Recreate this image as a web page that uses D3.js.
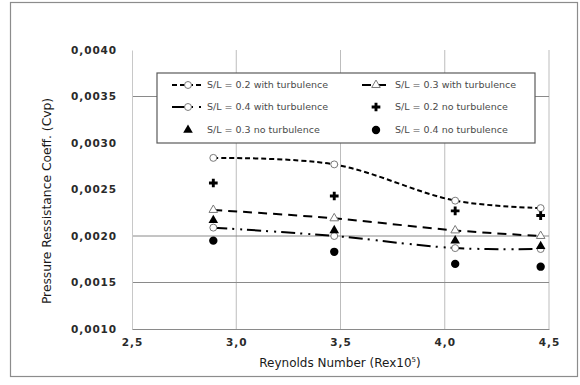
<!DOCTYPE html>
<html>
<head>
<meta charset="utf-8">
<script src="https://cdn.jsdelivr.net/npm/d3@7"></script>
<style>
  body { margin: 0; background: #fff; }
  svg { display: block; }
  text { font-family: "DejaVu Sans", Verdana, sans-serif; }
</style>
</head>
<body>
<svg id="chart"></svg>
<script>
var width = 580,
    height = 385

// Reynolds number (x10^5)
var reynolds = [2.89, 3.47, 4.05, 4.46]

var sl02Turb = [0.00284, 0.00277, 0.00238, 0.00230]
var sl03Turb = [0.00228, 0.00219, 0.00206, 0.00200]
var sl04Turb = [0.00209, 0.00200, 0.00187, 0.00186]
var sl02NoTurb = [0.00257, 0.00243, 0.00227, 0.00222]
var sl03NoTurb = [0.00217, 0.00206, 0.00195, 0.00189]
var sl04NoTurb = [0.00195, 0.00183, 0.00170, 0.00167]

var yTicks = [0.0010, 0.0015, 0.0020, 0.0025, 0.0030, 0.0035, 0.0040]
var yGrid = [0.0015, 0.0020, 0.0035]
var xTicks = [2.5, 3.0, 3.5, 4.0, 4.5]
var xGrid = [3.0, 3.5, 4.0, 4.5]

var seriesNames = [
    "S/L = 0.2 with turbulence", "S/L = 0.3 with turbulence",
    "S/L = 0.4 with turbulence", "S/L = 0.2 no turbulence",
    "S/L = 0.3 no turbulence", "S/L = 0.4 no turbulence"
]

var series = [
    { name: seriesNames[0], values: sl02Turb, line: "5,3", marker: "circle", open: true },
    { name: seriesNames[1], values: sl03Turb, line: "9,6", marker: "triangle", open: true },
    { name: seriesNames[2], values: sl04Turb, line: "14,5,2,6,2,5", marker: "circle", open: true },
    { name: seriesNames[3], values: sl02NoTurb, line: null, marker: "cross", open: false },
    { name: seriesNames[4], values: sl03NoTurb, line: null, marker: "triangle", open: false },
    { name: seriesNames[5], values: sl04NoTurb, line: null, marker: "circle", open: false }
]

var svg = d3.select("#chart")
    .attr("width", width)
    .attr("height", height)

// outer frame
svg.append("rect")
    .attr("x", 10.5).attr("y", 2.5)
    .attr("width", 567).attr("height", 374)
    .attr("fill", "none")
    .attr("stroke", "#8c8c8c")
    .attr("stroke-width", 1.2)

var xScale = d3.scaleLinear().domain([2.5, 4.5]).range([132, 549])
var yScale = d3.scaleLinear().domain([0.001, 0.004]).range([329, 50])

var fmtY = function(d) { return d3.format(".4f")(d).replace(".", ",") }
var fmtX = function(d) { return d3.format(".1f")(d).replace(".", ",") }

// grid
svg.selectAll(".vgrid")
    .data(xGrid)
    .enter()
    .append("line")
    .attr("x1", function(d) { return xScale(d) })
    .attr("x2", function(d) { return xScale(d) })
    .attr("y1", yScale(0.004))
    .attr("y2", yScale(0.001))
    .attr("stroke", "#bdbdbd")
    .attr("stroke-width", 1)

svg.selectAll(".hgrid")
    .data(yGrid)
    .enter()
    .append("line")
    .attr("x1", xScale(2.5))
    .attr("x2", xScale(4.5))
    .attr("y1", function(d) { return yScale(d) })
    .attr("y2", function(d) { return yScale(d) })
    .attr("stroke", "#8a8a8a")
    .attr("stroke-width", 1)

// axes
var yAxis = svg.append("g")
    .attr("transform", "translate(" + xScale(2.5) + ",0)")
    .call(d3.axisLeft(yScale).tickValues(yTicks).tickFormat(fmtY).tickSize(0).tickPadding(15))
yAxis.select(".domain").attr("stroke", "#c8c8c8")
yAxis.selectAll("text")
    .attr("font-size", 10.5)
    .attr("font-weight", "bold")
    .attr("letter-spacing", 0.9)
    .attr("fill", "#2a2a2a")

var xAxis = svg.append("g")
    .attr("transform", "translate(0," + yScale(0.001) + ")")
    .call(d3.axisBottom(xScale).tickValues(xTicks).tickFormat(fmtX).tickSize(0).tickPadding(10))
xAxis.select(".domain").attr("stroke", "#8a8a8a")
xAxis.selectAll("text")
    .attr("font-size", 10.5)
    .attr("font-weight", "bold")
    .attr("letter-spacing", 0.9)
    .attr("fill", "#2a2a2a")

// axis titles
var xt = svg.append("text")
    .attr("x", 340)
    .attr("y", 367)
    .attr("text-anchor", "middle")
    .attr("font-size", 12)
    .attr("fill", "#1a1a1a")
xt.append("tspan").text("Reynolds Number (Rex10")
xt.append("tspan").attr("font-size", 7).attr("dy", -5).text("5")
xt.append("tspan").attr("dy", 5).text(")")

svg.append("text")
    .attr("transform", "translate(51,201) rotate(-90)")
    .attr("text-anchor", "middle")
    .attr("font-size", 12.3)
    .attr("fill", "#1a1a1a")
    .text("Pressure Ressistance Coeff. (Cvp)")

// lines
var line = d3.line()
    .x(function(d) { return xScale(d[0]) })
    .y(function(d) { return yScale(d[1]) })
    .curve(d3.curveCatmullRom)

function drawMarker(g, s, x, y) {
    var stroke = s.open ? "#7a7a7a" : "none"
    var fill = s.open ? "#fff" : "#000"
    var sym
    if (s.marker == "circle") sym = d3.symbol().type(d3.symbolCircle).size(s.open ? 38 : 55)
    else if (s.marker == "triangle") sym = d3.symbol().type(d3.symbolTriangle).size(s.open ? 32 : 40)
    else sym = d3.symbol().type(d3.symbolCross).size(42)
    g.append("path")
        .attr("d", sym)
        .attr("transform", "translate(" + x + "," + y + ")")
        .attr("fill", fill)
        .attr("stroke", stroke)
        .attr("stroke-width", 1)
}

series.forEach(function(s) {
    var pts = reynolds.map(function(r, i) { return [r, s.values[i]] })
    if (s.line) {
        svg.append("path")
            .datum(pts)
            .attr("d", line)
            .attr("fill", "none")
            .attr("stroke", "#000")
            .attr("stroke-width", 2)
            .attr("stroke-dasharray", s.line)
    }
})

series.forEach(function(s) {
    var g = svg.append("g")
    reynolds.forEach(function(r, i) {
        drawMarker(g, s, xScale(r), yScale(s.values[i]))
    })
})

// legend
var legend = svg.append("g").attr("class", "legend")
legend.append("rect")
    .attr("x", 157).attr("y", 73)
    .attr("width", 378).attr("height", 70)
    .attr("fill", "#fff")
    .attr("stroke", "#5a5a5a")
    .attr("stroke-width", 1.2)

var legendPos = [
    [172, 85], [362, 85],
    [172, 107], [362, 107],
    [172, 130], [362, 130]
]

series.forEach(function(s, i) {
    var lx = legendPos[i][0], ly = legendPos[i][1]
    var g = legend.append("g")
    if (s.line) {
        g.append("line")
            .attr("x1", lx).attr("x2", lx + 30)
            .attr("y1", ly).attr("y2", ly)
            .attr("stroke", "#000")
            .attr("stroke-width", 2)
            .attr("stroke-dasharray", s.line)
    }
    drawMarker(g, s, lx + (i % 2 == 0 ? 16 : 14), ly)
    g.append("text")
        .attr("x", lx + (i % 2 == 0 ? 35 : 33))
        .attr("y", ly)
        .attr("dy", "0.35em")
        .attr("font-size", 9.5)
        .attr("fill", "#4a4a4a")
        .text(s.name)
})
</script>
</body>
</html>
